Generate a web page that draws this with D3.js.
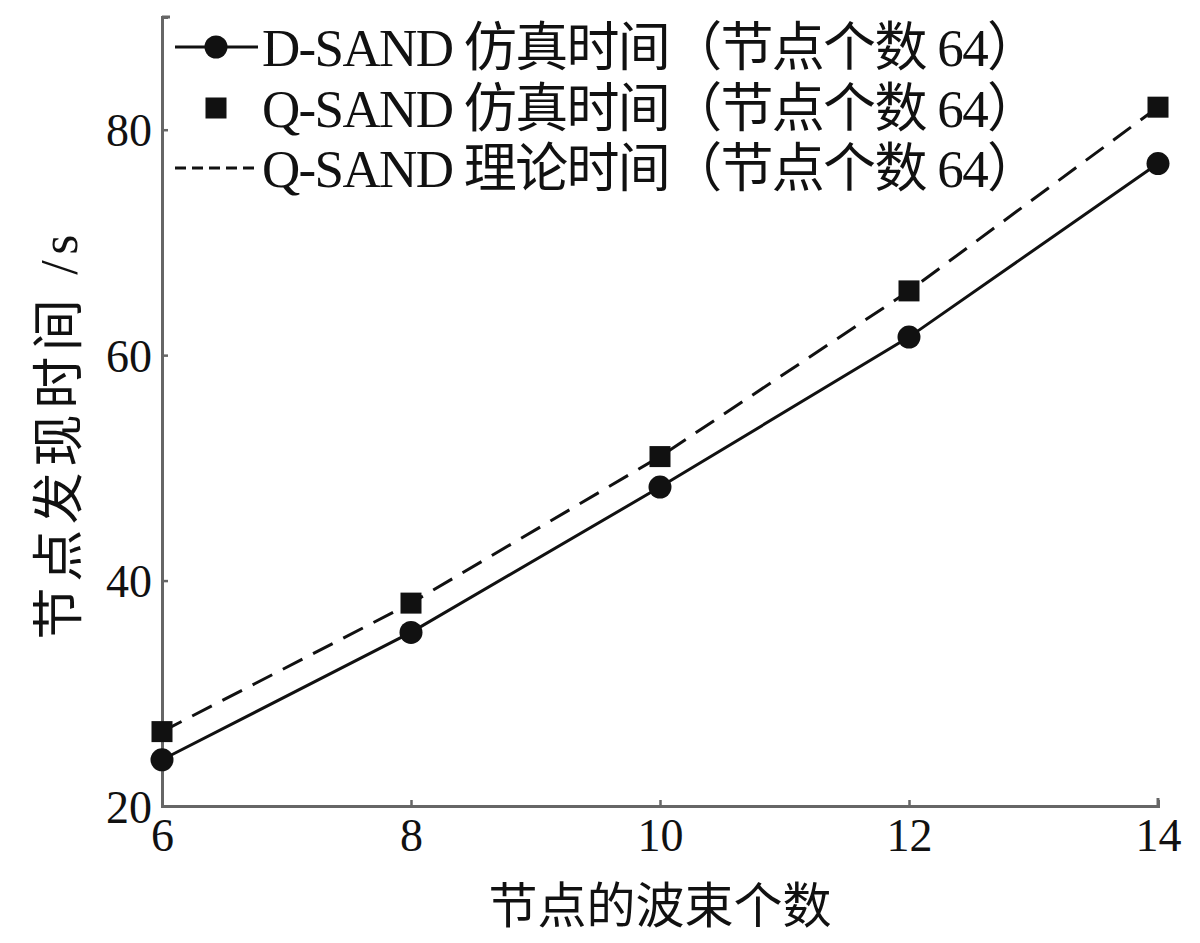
<!DOCTYPE html>
<html><head><meta charset="utf-8">
<script src="https://cdn.jsdelivr.net/npm/d3@7"></script>
<style>
body{margin:0;background:#fff;}
text{font-family:"Liberation Serif","Noto Sans CJK SC",serif;fill:#111;}
</style></head>
<body><svg id="c" width="1200" height="943"></svg>
<script>
const beams = [6, 8, 10, 12, 14];
const dSandSim = [24.1, 35.4, 48.3, 61.6, 77.0];
const qSandSim = [26.6, 38.0, 51.0, 65.7, 82.0];
const qSandTheory = [26.6, 38.0, 51.0, 65.7, 82.0];
const xTicks = [6, 8, 10, 12, 14];
const yTicks = [20, 40, 60, 80];
const legendLabels = ["D-SAND 仿真时间（节点个数 64）", "Q-SAND 仿真时间（节点个数 64）", "Q-SAND 理论时间（节点个数 64）"];
const xTitle = "节点的波束个数";
const yTitle = "节点发现时间 /s";

const svg = d3.select("#c");
const L = 162, R = 1158, T = 17, B = 806;
const x = d3.scaleLinear().domain([6, 14]).range([L, R]);
const y = d3.scaleLinear().domain([20, 90]).range([B, T]);
const axisColor = "#666";

// axes
const gx = svg.append("g").attr("transform", `translate(0,${B})`)
  .call(d3.axisBottom(x).tickValues(xTicks).tickSize(-6).tickPadding(12).tickFormat(d3.format("d")));
const gy = svg.append("g").attr("transform", `translate(${L},0)`)
  .call(d3.axisLeft(y).tickValues(yTicks).tickSize(-6).tickPadding(10).tickFormat(d3.format("d")));
[gx, gy].forEach(g => {
  g.select(".domain").attr("stroke", axisColor).attr("stroke-width", 3);
  g.selectAll(".tick line").attr("stroke", axisColor).attr("stroke-width", 2.5);
  g.selectAll(".tick text").style("font-size", "46px").attr("fill", "#222")
   .style("font-family", '"Liberation Serif",serif');
});
gx.selectAll(".tick text").attr("dy", "0.71em");
gy.selectAll(".tick text").attr("dy", "0.35em");
// end hooks
svg.append("line").attr("x1", L).attr("x2", L + 8).attr("y1", T).attr("y2", T)
  .attr("stroke", axisColor).attr("stroke-width", 3);
svg.append("line").attr("x1", R).attr("x2", R).attr("y1", B).attr("y2", B - 8)
  .attr("stroke", axisColor).attr("stroke-width", 3);

const line = d3.line().x((d, i) => x(beams[i])).y(d => y(d));

svg.append("path").datum(qSandTheory).attr("d", line).attr("fill", "none")
  .attr("stroke", "#111").attr("stroke-width", 3).attr("stroke-dasharray", "22,12");
svg.append("path").datum(dSandSim).attr("d", line).attr("fill", "none")
  .attr("stroke", "#111").attr("stroke-width", 3);

svg.append("g").selectAll("circle").data(dSandSim).join("circle")
  .attr("cx", (d, i) => x(beams[i])).attr("cy", d => y(d)).attr("r", 11.5).attr("fill", "#111");
const sq = 21;
svg.append("g").selectAll("rect").data(qSandSim).join("rect")
  .attr("x", (d, i) => x(beams[i]) - sq / 2).attr("y", d => y(d) - sq / 2)
  .attr("width", sq).attr("height", sq).attr("fill", "#111");

// legend
const lg = svg.append("g");
const rowsY = [47, 108, 168];
const lx1 = 175, lx2 = 258, lm = 216;
lg.append("line").attr("x1", lx1).attr("x2", lx2).attr("y1", rowsY[0]).attr("y2", rowsY[0])
  .attr("stroke", "#111").attr("stroke-width", 3);
lg.append("circle").attr("cx", lm).attr("cy", rowsY[0]).attr("r", 11.5).attr("fill", "#111");
lg.append("rect").attr("x", lm - sq / 2).attr("y", rowsY[1] - sq / 2).attr("width", sq).attr("height", sq).attr("fill", "#111");
lg.append("line").attr("x1", lx1).attr("x2", lx2).attr("y1", rowsY[2]).attr("y2", rowsY[2])
  .attr("stroke", "#111").attr("stroke-width", 3).attr("stroke-dasharray", "11,6");
lg.selectAll("text").data(legendLabels).join("text")
  .attr("x", 262).attr("y", (d, i) => rowsY[i]).attr("dy", "0.36em")
  .attr("textLength", 778).attr("lengthAdjust", "spacing")
  .style("font-size", "53px").text(d => d);

// axis titles
svg.append("text").attr("x", 660).attr("y", 905).attr("dy", "0.36em")
  .attr("text-anchor", "middle")
  .style("font-size", "49px").text(xTitle);
svg.append("text").attr("transform", `translate(58,${437}) rotate(-90)`)
  .attr("text-anchor", "middle").attr("dy", "0.36em")
  .attr("textLength", 405).attr("lengthAdjust", "spacing")
  .style("font-size", "52px").text(yTitle);
</script></body></html>
